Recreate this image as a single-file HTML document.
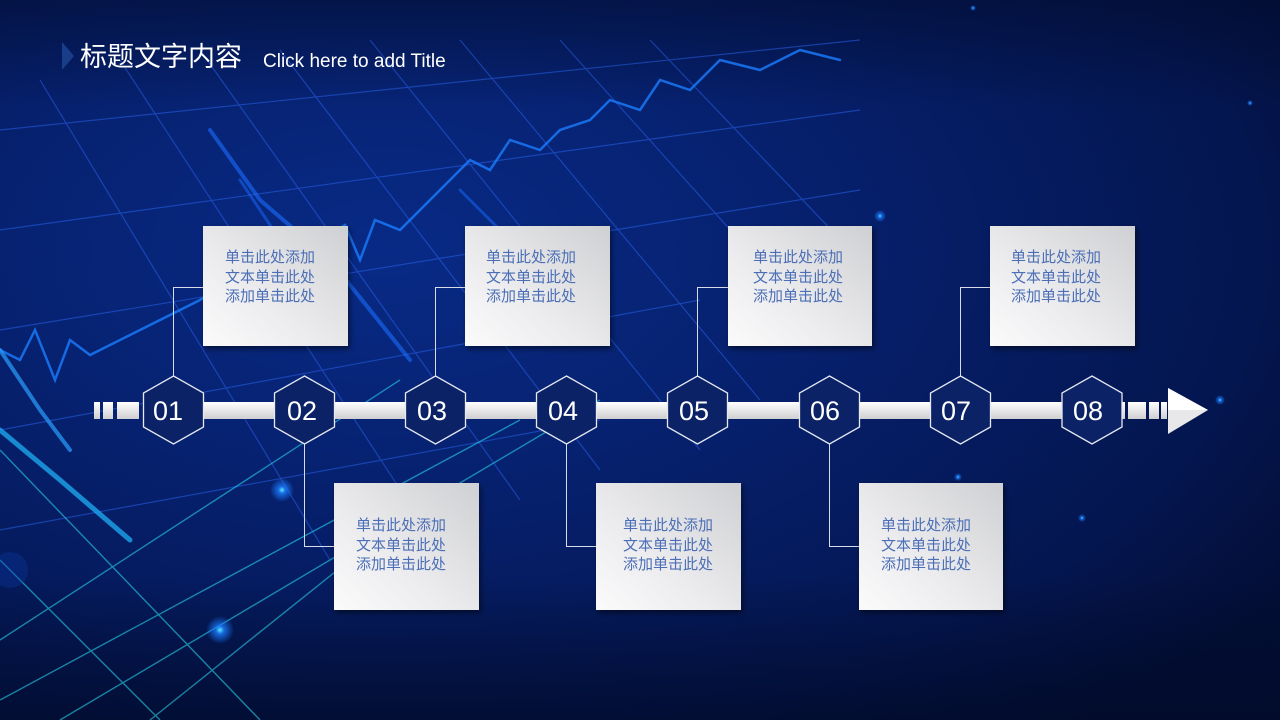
<!DOCTYPE html>
<html><head><meta charset="utf-8"><style>
html,body{margin:0;padding:0;background:#021035;}
svg{display:block;}
.t{font-family:"Liberation Sans","Noto Sans CJK SC",sans-serif;}
</style></head><body>
<svg width="1280" height="720" viewBox="0 0 1280 720" xmlns="http://www.w3.org/2000/svg">
<defs>
<radialGradient id="bg" cx="0.3" cy="0.35" r="0.85">
<stop offset="0" stop-color="#082a86"/><stop offset="0.45" stop-color="#061f6a"/><stop offset="0.8" stop-color="#041650"/><stop offset="1" stop-color="#030e36"/>
</radialGradient>
<linearGradient id="vb" x1="0" y1="0" x2="0" y2="1">
<stop offset="0" stop-color="#010a28" stop-opacity="0.5"/><stop offset="0.15" stop-color="#010a28" stop-opacity="0"/><stop offset="0.8" stop-color="#010a28" stop-opacity="0"/><stop offset="1" stop-color="#010a28" stop-opacity="0.7"/>
</linearGradient>
<linearGradient id="box" x1="1" y1="0" x2="0" y2="1">
<stop offset="0" stop-color="#cfd0d3"/><stop offset="0.6" stop-color="#ececee"/><stop offset="1" stop-color="#fbfbfc"/>
</linearGradient>
<linearGradient id="bar" x1="0" y1="0" x2="0" y2="1">
<stop offset="0" stop-color="#ffffff"/><stop offset="1" stop-color="#cfcfd2"/>
</linearGradient>
<radialGradient id="glow"><stop offset="0" stop-color="#5cf0ff"/><stop offset="0.3" stop-color="#1b7bff" stop-opacity="0.8"/><stop offset="1" stop-color="#1b7bff" stop-opacity="0"/></radialGradient>
<filter id="sh" x="-20%" y="-20%" width="140%" height="140%"><feDropShadow dx="2" dy="3" stdDeviation="3" flood-color="#000" flood-opacity="0.5"/></filter>
</defs>
<rect width="1280" height="720" fill="url(#bg)"/>
<rect width="1280" height="720" fill="url(#vb)"/>
<!-- grid lines -->
<g stroke="#2f6cff" stroke-width="1.2" opacity="0.45" fill="none">
<path d="M0 130 L860 40"/><path d="M0 230 L860 110"/><path d="M0 330 L860 190"/><path d="M0 430 L700 300"/><path d="M0 530 L600 420"/>
<path d="M120 60 L420 520"/><path d="M200 50 L520 500"/><path d="M280 50 L600 470"/><path d="M370 40 L700 450"/><path d="M460 40 L760 400"/><path d="M560 40 L820 330"/><path d="M650 40 L860 260"/><path d="M40 80 L330 560"/>
</g>
<g stroke="#28d0e8" stroke-width="1.4" opacity="0.6" fill="none">
<path d="M0 640 L400 380"/><path d="M0 700 L520 420"/><path d="M60 720 L600 400"/><path d="M0 560 L160 720"/><path d="M0 450 L260 720"/><path d="M150 720 L350 560"/>
</g>
<!-- heartbeat -->
<g fill="none" stroke="#1a7dff" stroke-linecap="round">
<path d="M0 350 L20 360 L35 330 L55 380 L70 340 L90 355 L140 330 L200 300 L230 280 L250 260 L270 270 L290 250 L320 240 L345 225 L360 260 L375 220 L400 230 L430 200 L450 180 L470 160 L490 170 L510 140 L540 150 L560 130 L590 120 L610 100 L640 110 L660 80 L690 90 L720 60 L760 70 L800 50 L840 60" stroke-width="2.5" opacity="0.8"/>
<path d="M0 430 L60 480 L130 540" stroke="#1fb8ff" stroke-width="5" opacity="0.7"/>
<path d="M0 350 L40 410 L70 450" stroke="#2aa0ff" stroke-width="4" opacity="0.7"/>
<path d="M210 130 L260 200 L330 260 L410 360" stroke="#1a6cff" stroke-width="4" opacity="0.6"/>
<path d="M240 180 L300 270" stroke="#1a6cff" stroke-width="3" opacity="0.5"/>
<path d="M460 190 L520 250" stroke="#1a6cff" stroke-width="3" opacity="0.5"/>
</g>
<circle cx="220" cy="630" r="14" fill="url(#glow)"/>
<circle cx="282" cy="490" r="12" fill="url(#glow)"/>
<circle cx="880" cy="216" r="6" fill="url(#glow)"/>
<circle cx="1220" cy="400" r="5" fill="url(#glow)"/>
<circle cx="1082" cy="518" r="4" fill="url(#glow)"/>
<circle cx="958" cy="477" r="4" fill="url(#glow)"/>
<circle cx="1250" cy="103" r="3" fill="url(#glow)"/>
<circle cx="973" cy="8" r="3" fill="url(#glow)"/>
<circle cx="10" cy="570" r="18" fill="#0b3aa0" opacity="0.35"/>
<!-- title -->
<path d="M62 42 L74 56 L62 70 Z" fill="#1a3d8a"/>
<text class="t" x="80" y="66" font-size="27" fill="#ffffff">标题文字内容</text>
<text class="t" x="263" y="67" font-size="19" fill="#ffffff">Click here to add Title</text>
<!-- bar -->
<rect x="94" y="402" width="6" height="17" fill="url(#bar)"/>
<rect x="103" y="402" width="10" height="17" fill="url(#bar)"/>
<rect x="117" y="402" width="22" height="17" fill="url(#bar)"/>
<rect x="143" y="402" width="982" height="17" fill="url(#bar)"/>
<rect x="1128" y="402" width="18" height="17" fill="url(#bar)"/>
<rect x="1149" y="402" width="10" height="17" fill="url(#bar)"/>
<rect x="1161" y="402" width="6" height="17" fill="url(#bar)"/>
<path d="M1168 388 L1208 410 L1168 434 Z" fill="#e8e8ea"/>
<path d="M1168 388 L1208 410 L1168 410 Z" fill="#ffffff"/>
<!-- connectors -->
<g stroke="#d8dbe8" stroke-width="1" fill="none">
<path d="M173.5 376 V287.5 H203"/>
<path d="M435.5 376 V287.5 H465"/>
<path d="M697.5 376 V287.5 H728"/>
<path d="M960.5 376 V287.5 H990"/>
<path d="M304.5 444 V546.5 H334"/>
<path d="M566.5 444 V546.5 H596"/>
<path d="M829.5 444 V546.5 H859"/>
</g>
<!-- boxes -->
<g filter="url(#sh)">
<rect x="203" y="226" width="145" height="120" fill="url(#box)"/>
<rect x="465" y="226" width="145" height="120" fill="url(#box)"/>
<rect x="728" y="226" width="144" height="120" fill="url(#box)"/>
<rect x="990" y="226" width="145" height="120" fill="url(#box)"/>
<rect x="334" y="483" width="145" height="127" fill="url(#box)"/>
<rect x="596" y="483" width="145" height="127" fill="url(#box)"/>
<rect x="859" y="483" width="144" height="127" fill="url(#box)"/>
</g>
<g class="t" font-size="15" fill="#4b6eb6" text-anchor="middle">
<g transform="translate(270,262)"><text y="0">单击此处添加</text><text y="20">文本单击此处</text><text y="39">添加单击此处</text></g>
<g transform="translate(531,262)"><text y="0">单击此处添加</text><text y="20">文本单击此处</text><text y="39">添加单击此处</text></g>
<g transform="translate(798,262)"><text y="0">单击此处添加</text><text y="20">文本单击此处</text><text y="39">添加单击此处</text></g>
<g transform="translate(1056,262)"><text y="0">单击此处添加</text><text y="20">文本单击此处</text><text y="39">添加单击此处</text></g>
<g transform="translate(401,530)"><text y="0">单击此处添加</text><text y="20">文本单击此处</text><text y="39">添加单击此处</text></g>
<g transform="translate(668,530)"><text y="0">单击此处添加</text><text y="20">文本单击此处</text><text y="39">添加单击此处</text></g>
<g transform="translate(926,530)"><text y="0">单击此处添加</text><text y="20">文本单击此处</text><text y="39">添加单击此处</text></g>
</g>
<!-- hexagons -->
<g fill="#0b2266" stroke="#e6e9f2" stroke-width="1.3">
<path d="M0 -34 L30 -17 L30 17 L0 34 L-30 17 L-30 -17 Z" transform="translate(173.5,410)"/>
<path d="M0 -34 L30 -17 L30 17 L0 34 L-30 17 L-30 -17 Z" transform="translate(304.5,410)"/>
<path d="M0 -34 L30 -17 L30 17 L0 34 L-30 17 L-30 -17 Z" transform="translate(435.5,410)"/>
<path d="M0 -34 L30 -17 L30 17 L0 34 L-30 17 L-30 -17 Z" transform="translate(566.5,410)"/>
<path d="M0 -34 L30 -17 L30 17 L0 34 L-30 17 L-30 -17 Z" transform="translate(697.5,410)"/>
<path d="M0 -34 L30 -17 L30 17 L0 34 L-30 17 L-30 -17 Z" transform="translate(829.5,410)"/>
<path d="M0 -34 L30 -17 L30 17 L0 34 L-30 17 L-30 -17 Z" transform="translate(960.5,410)"/>
<path d="M0 -34 L30 -17 L30 17 L0 34 L-30 17 L-30 -17 Z" transform="translate(1092,410)"/>
</g>
<g class="t" font-size="27" fill="#ffffff" text-anchor="middle">
<text x="168" y="420">01</text><text x="302" y="420">02</text><text x="432" y="420">03</text><text x="563" y="420">04</text>
<text x="694" y="420">05</text><text x="825" y="420">06</text><text x="956" y="420">07</text><text x="1088" y="420">08</text>
</g>
</svg>
</body></html>
